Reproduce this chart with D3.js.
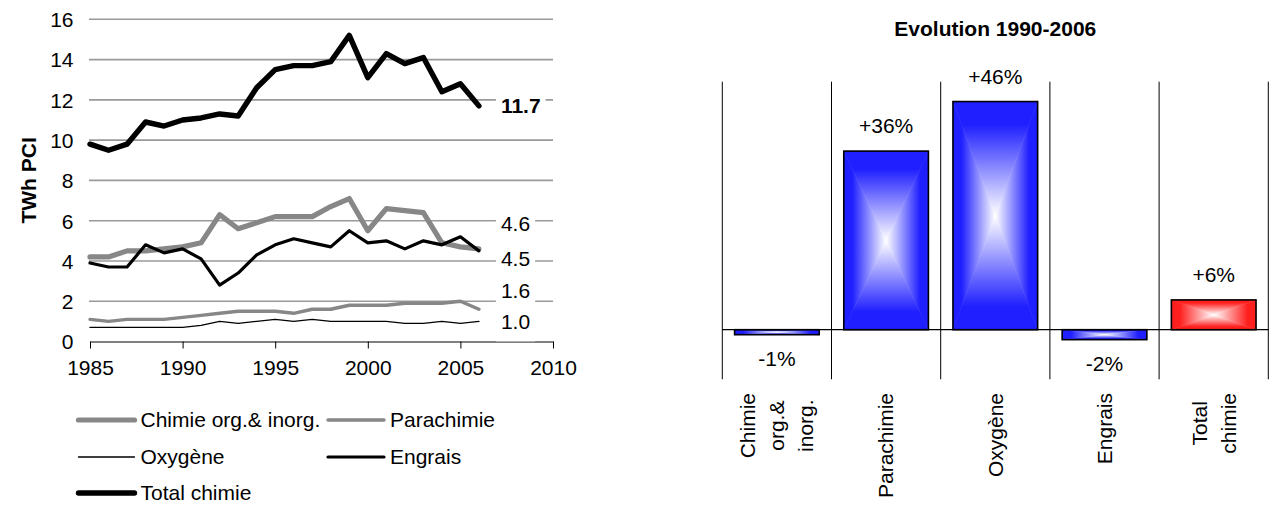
<!DOCTYPE html>
<html>
<head>
<meta charset="utf-8">
<script src="https://cdn.jsdelivr.net/npm/d3@7"></script>
<style>
  body { margin: 0; background: #fff; }
  svg { display: block; font-family: "Liberation Sans", Arial, sans-serif; }
</style>
</head>
<body>
<svg id="chart" width="1272" height="509"></svg>
<script>
// ---------- data: energy use of the chemical industry (TWh PCI) ----------
const years = [1985, 1986, 1987, 1988, 1989, 1990, 1991, 1992, 1993, 1994, 1995,
               1996, 1997, 1998, 1999, 2000, 2001, 2002, 2003, 2004, 2005, 2006];
const chimieOrg   = [4.2, 4.2, 4.5, 4.5, 4.6, 4.7, 4.9, 6.3, 5.6, 5.9, 6.2,
                     6.2, 6.2, 6.7, 7.1, 5.5, 6.6, 6.5, 6.4, 4.9, 4.7, 4.6];
const parachimie  = [1.1, 1.0, 1.1, 1.1, 1.1, 1.2, 1.3, 1.4, 1.5, 1.5, 1.5,
                     1.4, 1.6, 1.6, 1.8, 1.8, 1.8, 1.9, 1.9, 1.9, 2.0, 1.6];
const oxygene     = [0.7, 0.7, 0.7, 0.7, 0.7, 0.7, 0.8, 1.0, 0.9, 1.0, 1.1,
                     1.0, 1.1, 1.0, 1.0, 1.0, 1.0, 0.9, 0.9, 1.0, 0.9, 1.0];
const engrais     = [3.9, 3.7, 3.7, 4.8, 4.4, 4.6, 4.1, 2.8, 3.4, 4.3, 4.8,
                     5.1, 4.9, 4.7, 5.5, 4.9, 5.0, 4.6, 5.0, 4.8, 5.2, 4.5];
const totalChimie = [9.8, 9.5, 9.8, 10.9, 10.7, 11.0, 11.1, 11.3, 11.2, 12.6, 13.5,
                     13.7, 13.7, 13.9, 15.2, 13.1, 14.3, 13.8, 14.1, 12.4, 12.8, 11.7];
const seriesNames = ["Chimie org.& inorg.", "Parachimie", "Oxygène", "Engrais", "Total chimie"];
const yTicks = [0, 2, 4, 6, 8, 10, 12, 14, 16];
const xTicks = [1985, 1990, 1995, 2000, 2005, 2010];
const yTitle = "TWh PCI";

// ---------- data: evolution 1990-2006 ----------
const barTitle = "Evolution 1990-2006";
const barCategories = ["Chimie org.& inorg.", "Parachimie", "Oxygène", "Engrais", "Total chimie"];
const barCategoryLines = [["Chimie", "org.&", "inorg."], ["Parachimie"], ["Oxygène"], ["Engrais"], ["Total", "chimie"]];
const evolution = [-1, 36, 46, -2, 6];

const svg = d3.select("#chart");
const FONT = 21;

// ======================= line chart =======================
const x = d3.scaleLinear().domain([1985, 2010]).range([90, 553]);
const y = d3.scaleLinear().domain([0, 16]).range([341.5, 19.3]);

const left = svg.append("g");

// horizontal gridlines
left.append("g").selectAll("line")
  .data(yTicks.filter(d => d > 0))
  .join("line")
  .attr("x1", 89).attr("x2", x(2010))
  .attr("y1", d => y(d)).attr("y2", d => y(d))
  .attr("stroke", "#9a9a9a").attr("stroke-width", 1.6);

// y axis (labels only)
const yAxis = left.append("g")
  .attr("transform", `translate(${x(1985)},0)`)
  .call(d3.axisLeft(y).tickValues(yTicks).tickSize(0).tickPadding(16.5));
yAxis.select(".domain").remove();
yAxis.selectAll("text").attr("font-size", FONT).attr("font-family", "Liberation Sans, Arial")
  .attr("fill", "#000").attr("dy", "0.35em");

// x axis
const xAxis = left.append("g")
  .attr("transform", `translate(0,${y(0)})`)
  .call(d3.axisBottom(x).tickValues(xTicks).tickFormat(d3.format("d"))
    .tickSizeInner(7).tickSizeOuter(0).tickPadding(12));
xAxis.select(".domain").attr("stroke", "#000");
xAxis.selectAll(".tick line").attr("stroke", "#000");
xAxis.selectAll("text").attr("font-size", FONT).attr("font-family", "Liberation Sans, Arial").attr("fill", "#000");

// y title
left.append("text")
  .attr("transform", `translate(36,${(y(0) + y(16)) / 2}) rotate(-90)`)
  .attr("text-anchor", "middle")
  .attr("font-size", FONT).attr("font-weight", "bold")
  .text(yTitle);

// series lines
const seriesValues = [chimieOrg, parachimie, oxygene, engrais, totalChimie];
const seriesStyle = [
  { color: "#878787", width: 5.2 },
  { color: "#878787", width: 3.4 },
  { color: "#000000", width: 1.3 },
  { color: "#000000", width: 3.2 },
  { color: "#000000", width: 5.4 }
];
const lineGen = d3.line().x((d, i) => x(years[i])).y(d => y(d));
left.append("g").selectAll("path")
  .data(seriesValues)
  .join("path")
  .attr("d", d => lineGen(d))
  .attr("fill", "none")
  .attr("stroke", (d, i) => seriesStyle[i].color)
  .attr("stroke-width", (d, i) => seriesStyle[i].width)
  .attr("stroke-linejoin", "round")
  .attr("stroke-linecap", "round");

// end-of-series value labels (white boxes hide the gridlines behind)
const endLabelLayout = [
  { series: 4, dy: 0,   bold: true },
  { series: 0, dy: -25, bold: false },
  { series: 3, dy: 8,   bold: false },
  { series: 1, dy: -19, bold: false },
  { series: 2, dy: 0,   bold: false }
];
const endLabels = left.append("g");
endLabelLayout.forEach(l => {
  const vals = seriesValues[l.series];
  const v = vals[vals.length - 1];
  const cy = y(v) + l.dy;
  const tx = x(years[years.length - 1]) + 22;
  const t = endLabels.append("text")
    .attr("x", tx).attr("y", cy).attr("dy", "0.35em")
    .attr("font-size", FONT)
    .attr("font-weight", l.bold ? "bold" : "normal")
    .text(v.toFixed(1));
  const w = t.node().getComputedTextLength();
  endLabels.insert("rect", "text")
    .attr("x", tx - 5).attr("y", cy - 20)
    .attr("width", w + 10).attr("height", 40)
    .attr("fill", "#fff");
});

// legend
const legendPos = [
  { x: 78.5, y: 420 }, { x: 328, y: 420 },
  { x: 78.5, y: 457 }, { x: 328, y: 457 },
  { x: 78.5, y: 493 }
];
const legend = left.append("g");
seriesNames.forEach((name, i) => {
  const p = legendPos[i];
  legend.append("line")
    .attr("x1", p.x).attr("x2", p.x + 56)
    .attr("y1", p.y).attr("y2", p.y)
    .attr("stroke", seriesStyle[i].color)
    .attr("stroke-width", seriesStyle[i].width)
    .attr("stroke-linecap", "round");
  legend.append("text")
    .attr("x", p.x + 62).attr("y", p.y).attr("dy", "0.35em")
    .attr("font-size", FONT)
    .text(name);
});

// ======================= bar chart =======================
const xb = d3.scaleBand().domain(barCategories).range([722.3, 1268.3])
  .paddingInner(0.225).paddingOuter(0.1125);
const yb = d3.scaleLinear().domain([-10, 50]).range([379.3, 81.7]);
const right = svg.append("g");

// rectangular "from centre" gradients, built from four triangular faces
const defs = svg.append("defs");
function boxGradient(id, color) {
  const dirs = { t: [0, 0, 0, 1], b: [0, 1, 0, 0], l: [0, 0, 1, 0], r: [1, 0, 0, 0] };
  Object.entries(dirs).forEach(([k, [x1, y1, x2, y2]]) => {
    const g = defs.append("linearGradient").attr("id", `${id}-${k}`)
      .attr("x1", x1).attr("y1", y1).attr("x2", x2).attr("y2", y2);
    g.append("stop").attr("offset", 0).attr("stop-color", color);
    g.append("stop").attr("offset", 0.2).attr("stop-color", color);
    g.append("stop").attr("offset", 1).attr("stop-color", "#ffffff");
  });
}
boxGradient("blue", "#1f1fff");
boxGradient("red", "#ff1f1f");

// title
right.append("text")
  .attr("x", (722.3 + 1268.3) / 2).attr("y", 29).attr("dy", "0.35em")
  .attr("text-anchor", "middle")
  .attr("font-size", FONT).attr("font-weight", "bold")
  .text(barTitle);

// category separators
right.append("g").selectAll("line")
  .data(d3.range(barCategories.length + 1))
  .join("line")
  .attr("x1", i => 722.3 + i * xb.step()).attr("x2", i => 722.3 + i * xb.step())
  .attr("y1", yb(50)).attr("y2", yb(-10))
  .attr("stroke", "#000").attr("stroke-width", 1);

// bars
barCategories.forEach((c, i) => {
  const v = evolution[i];
  const gid = c === "Total chimie" ? "red" : "blue";
  const x0 = xb(c), x1 = x0 + xb.bandwidth();
  const y0 = Math.min(yb(v), yb(0)), y1 = Math.max(yb(v), yb(0));
  const cx = (x0 + x1) / 2, cy = (y0 + y1) / 2;
  const faces = [
    ["t", [[x0, y0], [x1, y0], [cx, cy]]],
    ["b", [[x0, y1], [x1, y1], [cx, cy]]],
    ["l", [[x0, y0], [x0, y1], [cx, cy]]],
    ["r", [[x1, y0], [x1, y1], [cx, cy]]]
  ];
  const g = right.append("g");
  faces.forEach(([k, pts]) => {
    g.append("polygon")
      .attr("points", pts.map(p => p.join(",")).join(" "))
      .attr("fill", `url(#${gid}-${k})`)
      .attr("stroke", `url(#${gid}-${k})`)
      .attr("stroke-width", 0.6);
  });
  g.append("rect")
    .attr("x", x0).attr("y", y0)
    .attr("width", x1 - x0).attr("height", Math.max(y1 - y0, 0.5))
    .attr("fill", "none").attr("stroke", "#000").attr("stroke-width", 1.6);

  // value label
  right.append("text")
    .attr("x", cx)
    .attr("y", v >= 0 ? yb(v) - 25 : yb(v) + 24)
    .attr("dy", "0.35em")
    .attr("text-anchor", "middle")
    .attr("font-size", FONT)
    .text((v > 0 ? "+" : "") + v + "%");
});

// zero line
right.append("line")
  .attr("x1", 722.3).attr("x2", 1268.3)
  .attr("y1", yb(0)).attr("y2", yb(0))
  .attr("stroke", "#000").attr("stroke-width", 1.2);

// rotated category labels, multi-line blocks anchored at the top
const labelTop = 393, lineStep = 29;
barCategories.forEach((c, i) => {
  const lines = barCategoryLines[i];
  const cx = xb(c) + xb.bandwidth() / 2;
  const g = right.append("g").attr("transform", `translate(${cx},${labelTop}) rotate(-90)`);
  const texts = lines.map((ln, j) => g.append("text")
    .attr("y", (j - (lines.length - 1) / 2) * lineStep)
    .attr("dy", "0.35em")
    .attr("text-anchor", "middle")
    .attr("font-size", FONT)
    .text(ln));
  const maxW = d3.max(texts, t => t.node().getComputedTextLength());
  texts.forEach(t => t.attr("x", -maxW / 2));
});
</script>
</body>
</html>
